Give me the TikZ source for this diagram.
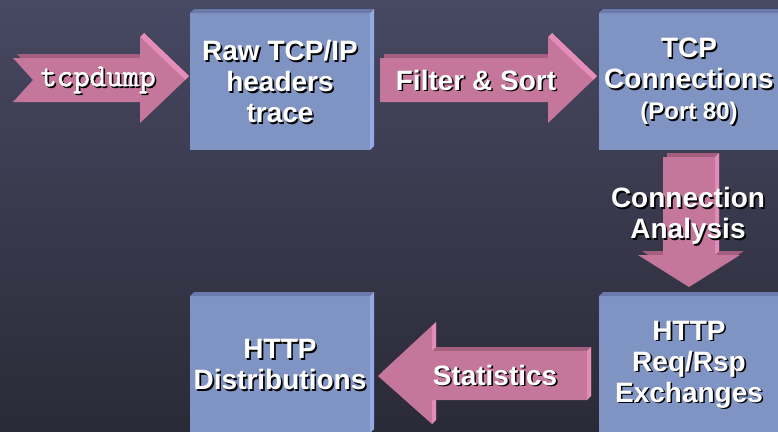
\documentclass[tikz,border=0pt]{standalone}
\usepackage{fontspec}
\setmainfont{Liberation Sans}
\newfontfamily\dumpfont{Latin Modern Mono}[FakeBold=1.6]

\definecolor{bgtop}{HTML}{474862}
\definecolor{bgbot}{HTML}{2A2A37}
\definecolor{boxfront}{HTML}{8094C3}
\definecolor{boxtop}{HTML}{6A7AAB}
\definecolor{boxside}{HTML}{94AAE4}
\definecolor{arrfront}{HTML}{C4779B}
\definecolor{arrtop}{HTML}{A45E7E}
\definecolor{arrside}{HTML}{E48DB9}

\tikzset{
  facebox/.style={fill=boxfront, minimum width=180pt, minimum height=137pt, inner sep=0pt, outer sep=0pt},
  lbl/.style={font=\fontsize{28}{31}\selectfont\bfseries, align=center, inner sep=0pt},
}

%% text with a dark drop shadow under it
\newcommand{\shadowlabel}[4]{%
  \node[lbl, text=black, #4] at ([shift={(1.6pt,-1.6pt)}]#2) {#3};
  \node[lbl, text=white, #4] (#1) at (#2) {#3};}

%% outlines of the block arrows, in pixel coordinates
\newcommand{\dumparrow}{(13,58) -- (140,58) -- (140,37) -- (185,80) -- (140,123) -- (140,102) -- (13,102) -- (33,80) -- cycle}
\newcommand{\filterarrow}{(380,58) -- (548,58) -- (548,37) -- (593,80) -- (548,123) -- (548,102) -- (380,102) -- cycle}
\newcommand{\analysisarrow}{(663,157) -- (715,157) -- (715,255) -- (740,255) -- (689,287) -- (638,255) -- (663,255) -- cycle}
\newcommand{\statsarrow}{(587,351) -- (432,351) -- (432,326) -- (378,376) -- (432,424) -- (432,400) -- (587,400) -- cycle}

\begin{document}
\begin{tikzpicture}[x=1pt, y=-1pt]
    \useasboundingbox (0,0) rectangle (778,431);
    \clip (0,0) rectangle (778,431);
    \shade[top color=bgtop, bottom color=bgbot] (0pt,0pt) rectangle (778pt,-431pt);

%% the four boxes, with their top and right faces
    \node[facebox] (raw) at (280,81.5) {};
    \node[facebox] (conn) at (689,81.5) {};
    \node[facebox] (http) at (689,364.5) {};
    \node[facebox] (dist) at (280,364.5) {};
    \foreach \b in {raw,conn,http,dist} {
      \fill[boxtop] (\b.north west) -- ++(4,-4) -- ([shift={(4,-4)}]\b.north east) -- (\b.north east) -- cycle;
      \fill[boxside] (\b.north east) -- ++(4,-4) -- ([shift={(4,-4)}]\b.south east) -- (\b.south east) -- cycle;
    }

%% block arrows: back copy first, then the lit faces, then the front
    \foreach \a in {\dumparrow,\filterarrow,\analysisarrow,\statsarrow}
      \fill[arrtop, shift={(4,-4)}] \a;
    \fill[arrside] (140,37) -- (144,33) -- (189,76) -- (185,80) -- cycle;
    \fill[arrside] (548,37) -- (552,33) -- (597,76) -- (593,80) -- cycle;
    \fill[arrside] (715,157) -- (719,153) -- (719,251) -- (715,255) -- cycle;
    \fill[arrside] (587,351) -- (591,347) -- (591,396) -- (587,400) -- cycle;
    \fill[arrside] (432,326) -- (436,322) -- (436,347) -- (432,351) -- cycle;
    \fill[arrside] (432,400) -- (436,396) -- (436,420) -- (432,424) -- cycle;
    \foreach \a in {\dumparrow,\filterarrow,\analysisarrow,\statsarrow}
      \fill[arrfront] \a;

%% box texts
    \shadowlabel{rawtxt}{raw.center}{Raw TCP/IP\\headers\\trace}{}
    \shadowlabel{conntxt}{conn.center}{TCP\\Connections\\{\fontsize{24}{31}\selectfont(Port 80)}}{}
    \shadowlabel{httptxt}{http.center}{HTTP\\Req/Rsp\\Exchanges}{}
    \shadowlabel{disttxt}{dist.center}{HTTP\\Distributions}{}

%% arrow texts
    \shadowlabel{dumptxt}{98,80}{tcpdump}{font=\fontsize{32}{31}\selectfont\dumpfont}
    \shadowlabel{filtertxt}{476,80}{Filter \& Sort}{}
    \shadowlabel{analysistxt}{688,216}{Connection\\Analysis}{}
    \shadowlabel{statstxt}{495,375}{Statistics}{}
\end{tikzpicture}
\end{document}
